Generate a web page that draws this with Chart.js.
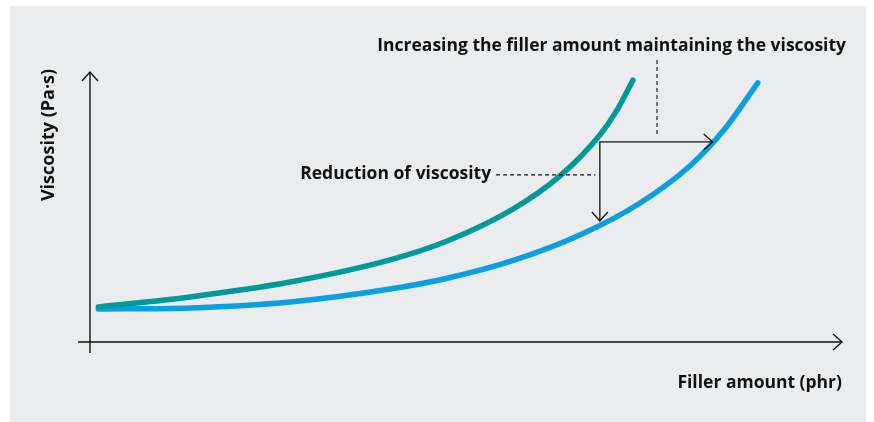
<!DOCTYPE html>
<html>
<head>
<meta charset="utf-8">
<script src="https://cdn.jsdelivr.net/npm/chart.js@4/dist/chart.umd.min.js"></script>
<style>
  html, body { margin: 0; padding: 0; background: #ffffff; }
  #wrap { position: absolute; left: 10px; top: 6px; width: 856px; height: 416px; background: #ebeced; }
  canvas { display: block; }
</style>
</head>
<body>
<div id="wrap"><canvas id="c" width="856" height="416"></canvas></div>
<script>
// Filler amount (arbitrary units 0-100) and viscosity (arbitrary units 0-100)
const tealX = [1.1, 13.3, 26.6, 39.9, 47.5, 56.3, 62.5, 67.8, 70.1, 72.2];
const tealY = [13.0, 16.7, 22.2, 30.4, 37.4, 49.3, 61.5, 76.7, 86.0, 97.0];
const blueX = [1.1, 13.3, 26.6, 39.9, 47.5, 56.3, 65.2, 73.1, 79.8, 84.4, 88.8];
const blueY = [12.2, 12.6, 14.8, 19.6, 23.6, 30.2, 39.7, 51.4, 65.3, 78.9, 96.0];

const yTitle = "Viscosity (Pa·s)";
const xTitle = "Filler amount (phr)";
const topNote = "Increasing the filler amount maintaining the viscosity";
const sideNote = "Reduction of viscosity";

// annotation anchor points in data units
const arrowCorner = {x: 67.8, y: 74.1};
const arrowRightEnd = 82.8;
const arrowDownEnd = 44.8;
const dashV = {x: 75.4, y1: 104.4, y2: 76.7};
const dashH = {y: 61.9, x1: 54.0, x2: 67.2};

const toPts = (xs, ys) => xs.map((x, i) => ({x: x, y: ys[i]}));

const INK = '#111111';
const FONT = '"Open Sans", "Noto Sans", sans-serif';

function arrowHead(ctx, tx, ty, dir) {
  const L = 9, W = 8;
  ctx.beginPath();
  if (dir === 'up') { ctx.moveTo(tx - W, ty + L); ctx.lineTo(tx, ty); ctx.lineTo(tx + W, ty + L); }
  if (dir === 'down') { ctx.moveTo(tx - W, ty - L); ctx.lineTo(tx, ty); ctx.lineTo(tx + W, ty - L); }
  if (dir === 'right') { ctx.moveTo(tx - L, ty - W); ctx.lineTo(tx, ty); ctx.lineTo(tx - L, ty + W); }
  ctx.stroke();
}

const decor = {
  id: 'decor',
  afterDatasetsDraw(chart) {
    const ctx = chart.ctx, a = chart.chartArea;
    const xs = chart.scales.x, ys = chart.scales.y;
    ctx.save();
    ctx.strokeStyle = INK;
    ctx.lineWidth = 1.4;
    ctx.lineCap = 'butt';
    // axes
    ctx.beginPath();
    ctx.moveTo(a.left, a.top); ctx.lineTo(a.left, a.bottom + 11);
    ctx.moveTo(a.left - 12, a.bottom); ctx.lineTo(a.right, a.bottom);
    ctx.stroke();
    arrowHead(ctx, a.left, a.top, 'up');
    arrowHead(ctx, a.right, a.bottom, 'right');

    // annotation arrows
    const cx = xs.getPixelForValue(arrowCorner.x), cy = ys.getPixelForValue(arrowCorner.y);
    const rx = xs.getPixelForValue(arrowRightEnd), dy = ys.getPixelForValue(arrowDownEnd);
    ctx.lineWidth = 1.3;
    ctx.beginPath();
    ctx.moveTo(rx, cy); ctx.lineTo(cx, cy); ctx.lineTo(cx, dy);
    ctx.stroke();
    arrowHead(ctx, rx, cy, 'right');
    arrowHead(ctx, cx, dy, 'down');

    // dashed leaders
    ctx.setLineDash([4, 3]);
    ctx.lineWidth = 1.1;
    ctx.beginPath();
    const vx = xs.getPixelForValue(dashV.x);
    ctx.moveTo(vx, ys.getPixelForValue(dashV.y1)); ctx.lineTo(vx, ys.getPixelForValue(dashV.y2));
    const hy = ys.getPixelForValue(dashH.y);
    ctx.moveTo(xs.getPixelForValue(dashH.x1), hy); ctx.lineTo(xs.getPixelForValue(dashH.x2), hy);
    ctx.stroke();
    ctx.setLineDash([]);

    // texts
    ctx.fillStyle = INK;
    ctx.font = 'bold 17.5px ' + FONT;
    ctx.textBaseline = 'middle';
    ctx.textAlign = 'right';
    ctx.fillText(topNote, 836, 40);
    ctx.fillText(sideNote, xs.getPixelForValue(dashH.x1) - 5, hy - 1);
    ctx.fillText(xTitle, a.right, 377);
    ctx.save();
    ctx.translate(39, 129);
    ctx.rotate(-Math.PI / 2);
    ctx.textAlign = 'center';
    ctx.font = 'bold 18px ' + FONT;
    ctx.fillText(yTitle, 0, 0);
    ctx.restore();
    ctx.restore();
  }
};

new Chart(document.getElementById('c'), {
  type: 'line',
  data: {
    datasets: [
      { label: 'Before', data: toPts(tealX, tealY), borderColor: '#009b98', borderWidth: 5.5,
        pointRadius: 0, cubicInterpolationMode: 'monotone', borderCapStyle: 'round', fill: false },
      { label: 'After', data: toPts(blueX, blueY), borderColor: '#0a9fe0', borderWidth: 5.5,
        pointRadius: 0, cubicInterpolationMode: 'monotone', borderCapStyle: 'round', fill: false }
    ]
  },
  options: {
    responsive: false,
    devicePixelRatio: 1,
    animation: false,
    layout: { padding: { left: 80, right: 24, top: 66, bottom: 80 } },
    scales: {
      x: { type: 'linear', min: 0, max: 100, display: false },
      y: { type: 'linear', min: 0, max: 100, display: false }
    },
    plugins: { legend: { display: false }, tooltip: { enabled: false } },
    clip: false
  },
  plugins: [decor]
});
</script>
</body>
</html>
